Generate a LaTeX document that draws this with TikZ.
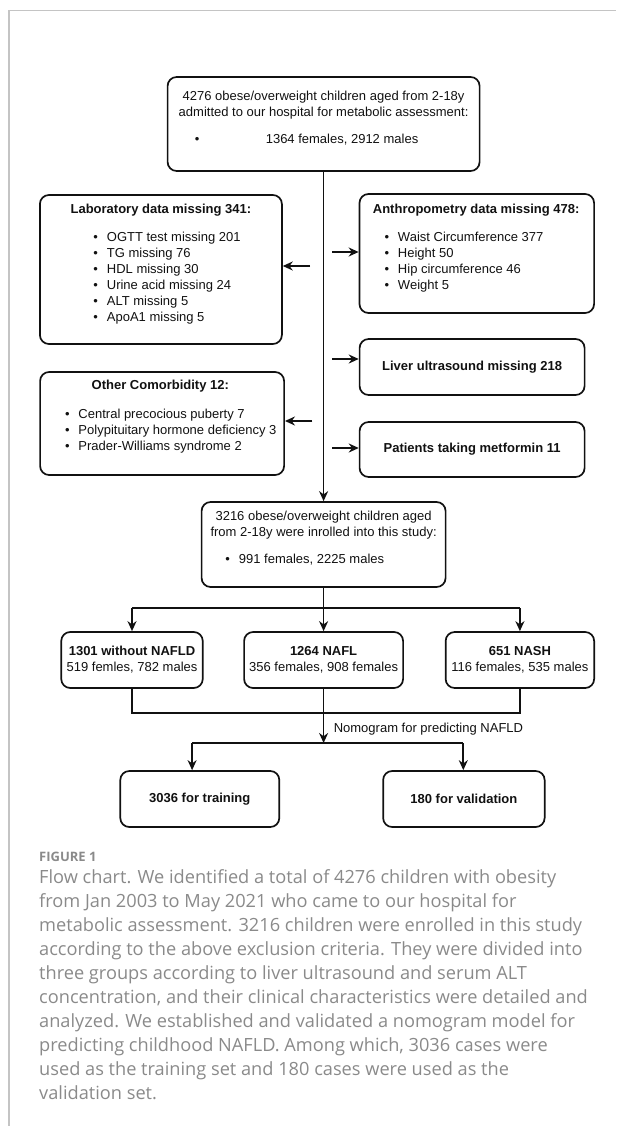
\documentclass[tikz,border=0pt]{standalone}
\usepackage{fontspec}
\setmainfont{Liberation Sans}
\newfontfamily\capfont{Open Sans}
\usepackage{xcolor}
\usepackage{tikz}
\usetikzlibrary{arrows.meta}
\definecolor{ink}{HTML}{111111}
\definecolor{frame}{HTML}{C4C4C4}
\definecolor{capgray}{HTML}{8A8A8A}
\newcommand{\bul}{\makebox[13.5pt][l]{\textbullet}}
\tikzset{
  box/.style={draw=ink, line width=1.7pt, rounded corners=9pt, inner sep=0pt, align=center, text=ink, font=\fontsize{13}{16}\selectfont},
  line/.style={draw=ink, line width=1.7pt},
  arr/.style={draw=ink, line width=1.7pt, -{Stealth[length=10pt,width=9pt]}},
  lbl/.style={text=ink, inner sep=0pt, font=\fontsize{13}{16}\selectfont},
  ttl/.style={text=ink, inner sep=0pt, font=\bfseries\fontsize{13}{16}\selectfont},
  lst/.style={lbl, align=left, anchor=west},
  captxt/.style={text=capgray, inner sep=0pt, align=left}
}

\begin{document}
\begin{tikzpicture}[x=1pt, y=-1pt]
  \useasboundingbox (0,0) rectangle (616,1126);
  % page frame
  \draw[frame, line width=1.2pt] (9,1126) -- (9,10.5) -- (616,10.5);

  % boxes
  \node[box, minimum width=312pt, minimum height=94pt] (top) at (323.6,124) {};
  \node[box, minimum width=242pt, minimum height=149pt] (lab) at (160.9,269.5) {};
  \node[box, minimum width=234.6pt, minimum height=119pt] (anth) at (476.8,253.5) {};
  \node[box, minimum width=225pt, minimum height=56pt] (liver) at (472.1,367) {\textbf{Liver ultrasound missing 218}};
  \node[box, minimum width=244pt, minimum height=103pt] (other) at (162.1,423.5) {};
  \node[box, minimum width=225pt, minimum height=55pt] (metf) at (472.1,449.5) {\textbf{Patients taking metformin 11}};
  \node[box, minimum width=244pt, minimum height=85pt] (enrol) at (323.6,544.5) {};
  \node[box, minimum width=141.5pt, minimum height=56pt] (g1) at (132,660) {\textbf{1301 without NAFLD}\\519 femles, 782 males};
  \node[box, minimum width=159pt, minimum height=56pt] (g2) at (323.6,660) {\textbf{1264 NAFL}\\356 females, 908 females};
  \node[box, minimum width=148.5pt, minimum height=56pt] (g3) at (519.9,660) {\textbf{651 NASH}\\116 females, 535 males};
  \node[box, minimum width=159pt, minimum height=56pt] (train) at (199.8,799) {\textbf{3036 for training}};
  \node[box, minimum width=161.5pt, minimum height=56pt] (valid) at (463.9,799) {\textbf{180 for validation}};

  % box texts
  \node[lbl, align=center] (topT) at (323.6,105) {4276 obese/overweight children aged from 2-18y\\admitted to our hospital for metabolic assessment:};
  \node[lst] (topL) at (194.6,140) {\makebox[71pt][l]{\textbullet}1364 females, 2912 males};
  \node[ttl] (labT) at (160.9,210) {Laboratory data missing 341:};
  \node[lst] (labL) at (93.2,278.5) {\bul OGTT test missing 201\\\bul TG missing 76\\\bul HDL missing 30\\\bul Urine acid missing 24\\\bul ALT missing 5\\\bul ApoA1 missing 5};
  \node[ttl] (anthT) at (476.2,210) {Anthropometry data missing 478:};
  \node[lst] (anthL) at (384.3,262) {\bul Waist Circumference 377\\\bul Height 50\\\bul Hip circumference 46\\\bul Weight 5};
  \node[ttl] (otherT) at (160.3,386) {Other Comorbidity 12:};
  \node[lst] (otherL) at (64.8,431.5) {\bul Central precocious puberty 7\\\bul Polypituitary hormone deficiency 3\\\bul Prader-Williams syndrome 2};
  \node[lbl, align=center] (enrolT) at (323.6,525) {3216 obese/overweight children aged\\from 2-18y were inrolled into this study:};
  \node[lst] (enrolL) at (225.2,560) {\bul 991 females, 2225 males};

  % exclusions
  \draw[arr] (top.south) -- (enrol.north);
  \coordinate (toLab) at (310,266);
  \coordinate (toAnth) at (332.4,252);
  \coordinate (toLiver) at (332.4,359);
  \coordinate (toOther) at (312.4,421);
  \coordinate (toMetf) at (332.4,448);
  \draw[arr] (toLab) -- (toLab -| lab.east);
  \draw[arr] (toAnth) -- (toAnth -| anth.west);
  \draw[arr] (toLiver) -- (toLiver -| liver.west);
  \draw[arr] (toOther) -- (toOther -| other.east);
  \draw[arr] (toMetf) -- (toMetf -| metf.west);

  % three groups
  \coordinate (splitG) at (323.6,608);
  \draw[line] (splitG -| g1) -- (splitG -| g3);
  \draw[arr] (enrol.south) -- (g2.north);
  \draw[arr] (splitG -| g1) -- (g1.north);
  \draw[arr] (splitG -| g3) -- (g3.north);

  % nomogram split
  \coordinate (mergeG) at (323.6,713);
  \draw[line] (g1.south) -- (mergeG -| g1) -- (mergeG -| g3) -- (g3.south);
  \coordinate (splitM) at (323.6,743);
  \draw[arr] (g2.south) -- (splitM);
  \coordinate (toTrain) at (192.1,743);
  \coordinate (toValid) at (463.3,743);
  \draw[line] (toTrain) -- (toValid);
  \draw[arr] (toTrain) -- (toTrain |- train.north);
  \draw[arr] (toValid) -- (toValid |- valid.north);
  \node[lbl, anchor=west] (nomo) at (333.6,729) {Nomogram for predicting NAFLD};

  % caption
  \node[captxt, anchor=west, font=\capfont\bfseries\fontsize{13}{15}\selectfont] (figT) at (39,857) {FIGURE 1};
  \node[captxt, anchor=north west, font=\capfont\fontsize{18.2}{24}\selectfont] (capT) at (39,869) {Flow chart. We identified a total of 4276 children with obesity\\from Jan 2003 to May 2021 who came to our hospital for\\metabolic assessment. 3216 children were enrolled in this study\\according to the above exclusion criteria. They were divided into\\three groups according to liver ultrasound and serum ALT\\concentration, and their clinical characteristics were detailed and\\analyzed. We established and validated a nomogram model for\\predicting childhood NAFLD. Among which, 3036 cases were\\used as the training set and 180 cases were used as the\\validation set.};
\end{tikzpicture}
\end{document}
